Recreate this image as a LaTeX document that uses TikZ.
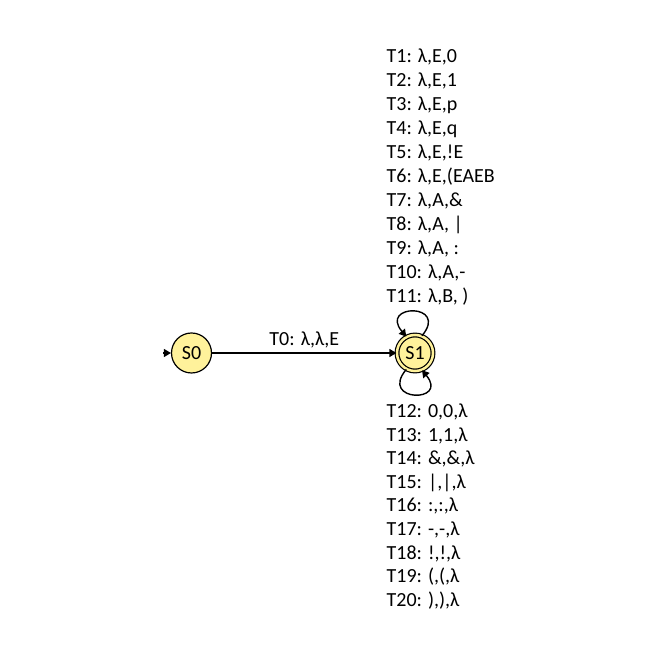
\documentclass[tikz,border=0pt]{standalone}
\usepackage{fontspec}
\setmainfont{Carlito}
\usetikzlibrary{%
  arrows.meta,%
  positioning,% wg. " of "
  calc%
}

\begin{document}
\begin{tikzpicture}[
  x=1pt, y=1pt,
  font=\fontsize{20}{24}\selectfont,
  >={Triangle[length=7pt,width=8pt]},
  line width=1.4pt,
  state/.style={circle, inner sep = 0pt, minimum size=40pt, draw=black, fill=stateyellow, line width=1.2pt},
  accept/.style={state, minimum size=36pt, double=stateyellow, double distance=2.5pt},
  translist/.style={align=left, inner sep=0pt, anchor=west}
]
\definecolor{stateyellow}{RGB}{255,242,155}
\useasboundingbox (0,0) rectangle (650,650);

\node[state] (s0) at (191.5,297) {S0};
\node[accept] (s1) at (415,297) {S1};
\coordinate (init) at (163,297);

\draw[->] (init) -- (s0);
\draw[->] (s0) -- node[above=1pt] (t0) {T0: λ,λ,E} (s1);
\draw[->] (s1.68) to[out=50,in=130,looseness=7] (s1.118);
\draw[->] (s1.242) to[out=230,in=310,looseness=7] (s1.292);

\node[translist] (top) at (386,473) {%
T1: λ,E,0\\
T2: λ,E,1\\
T3: λ,E,p\\
T4: λ,E,q\\
T5: λ,E,!E\\
T6: λ,E,(EAEB\\
T7: λ,A,\&\\
T8: λ,A, |\\
T9: λ,A, :\\
T10: λ,A,-\\
T11: λ,B, )};

\node[translist, font=\fontsize{20}{23.6}\selectfont] (bottom) at (386,143.5) {%
T12: 0,0,λ\\
T13: 1,1,λ\\
T14: \&,\&,λ\\
T15: |,|,λ\\
T16: :,:,λ\\
T17: -,-,λ\\
T18: !,!,λ\\
T19: (,(,λ\\
T20: ),),λ};

\end{tikzpicture}
\end{document}
